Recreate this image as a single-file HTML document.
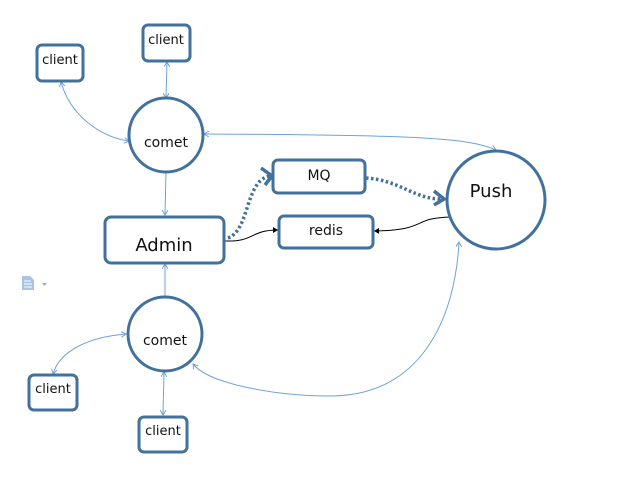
<!DOCTYPE html>
<html><head><meta charset="utf-8"><style>
body{margin:0;background:#fff}
svg text{font-family:"DejaVu Sans","Liberation Sans",sans-serif;fill:#111}
</style></head><body>
<svg width="636" height="493" viewBox="0 0 636 493" xmlns="http://www.w3.org/2000/svg">
<defs>
<marker id="a" markerWidth="6" markerHeight="6" refX="5" refY="3" orient="auto-start-reverse" markerUnits="userSpaceOnUse"><path d="M0,0 L5,3 L0,6" fill="none" stroke="#6fa3d8" stroke-width="1"/></marker>
<marker id="k" markerWidth="6" markerHeight="6" refX="5" refY="3" orient="auto" markerUnits="userSpaceOnUse"><path d="M0,0 L5,3 L0,6 z" fill="#000"/></marker>
</defs>
<g fill="none" stroke="#6fa3d8" stroke-width="1">
<path d="M61,82 C70,115 100,137 129,141" marker-start="url(#a)" marker-end="url(#a)"/>
<path d="M167,62 L166,98" marker-start="url(#a)" marker-end="url(#a)"/>
<path d="M166,171 L165,215" marker-end="url(#a)"/>
<path d="M496,150 C470,138 420,135 204,134" marker-start="url(#a)" marker-end="url(#a)"/>
<path d="M165,297 L165,264" marker-end="url(#a)"/>
<path d="M53,374 C60,350 90,337 126,334" marker-start="url(#a)" marker-end="url(#a)"/>
<path d="M164,372 L163,415" marker-start="url(#a)" marker-end="url(#a)"/>
<path d="M193,364 C210,385 280,396 330,396 C420,396 455,320 459,242" marker-start="url(#a)" marker-end="url(#a)"/>
</g>
<g fill="none" stroke="#000" stroke-width="1">
<path d="M225,241 C255,242 250,230 278,230" marker-end="url(#k)"/>
<path d="M451,217 C410,218 430,230 374,231" marker-end="url(#k)"/>
</g>
<g fill="none" stroke="#41719c" stroke-width="3.5" stroke-dasharray="2.5,2.5">
<path d="M228,238 C250,230 245,180 270,176"/>
<path d="M366,178 C400,180 415,200 443,199"/>
</g>
<g fill="none" stroke="#41719c" stroke-width="3.5">
<path d="M261,168 L272,176 L265,185"/>
<path d="M434,191 L444,199 L434,205"/>
</g>
<g fill="#fff" stroke="#41719c" stroke-width="3">
<rect x="37" y="45" width="46" height="36" rx="5"/>
<rect x="143" y="25" width="47" height="36" rx="5"/>
<circle cx="166" cy="135" r="37"/>
<rect x="105" y="217" width="119" height="46" rx="6"/>
<rect x="273" y="160" width="92" height="33" rx="5"/>
<rect x="279" y="216" width="94" height="32" rx="5"/>
<circle cx="496" cy="200" r="49"/>
<circle cx="165" cy="334" r="37"/>
<rect x="29" y="375" width="48" height="35" rx="5"/>
<rect x="139" y="417" width="48" height="35" rx="5"/>
</g>
<g font-size="13">
<text x="60" y="64" text-anchor="middle">client</text>
<text x="166" y="44" text-anchor="middle">client</text>
<text x="166" y="147" text-anchor="middle" font-size="14">comet</text>
<text x="165" y="345" text-anchor="middle" font-size="14">comet</text>
<text x="53" y="393" text-anchor="middle">client</text>
<text x="163" y="435" text-anchor="middle">client</text>
<text x="319" y="180" text-anchor="middle" font-size="14">MQ</text>
<text x="326" y="235" text-anchor="middle" font-size="14">redis</text>
<text x="164" y="251" text-anchor="middle" font-size="18">Admin</text>
<text x="491" y="197" text-anchor="middle" font-size="18">Push</text>
</g>
<g fill="#a9c3e6">
<path d="M22,276 h8 l4,4 v10 h-12 z"/>
<path d="M42,283 h5 l-2.5,3 z" fill="#aaa"/>
</g>
<g stroke="#fff" stroke-width="1"><path d="M24,281 h7 M24,284 h8 M24,287 h8"/></g>
</svg>
</body></html>
